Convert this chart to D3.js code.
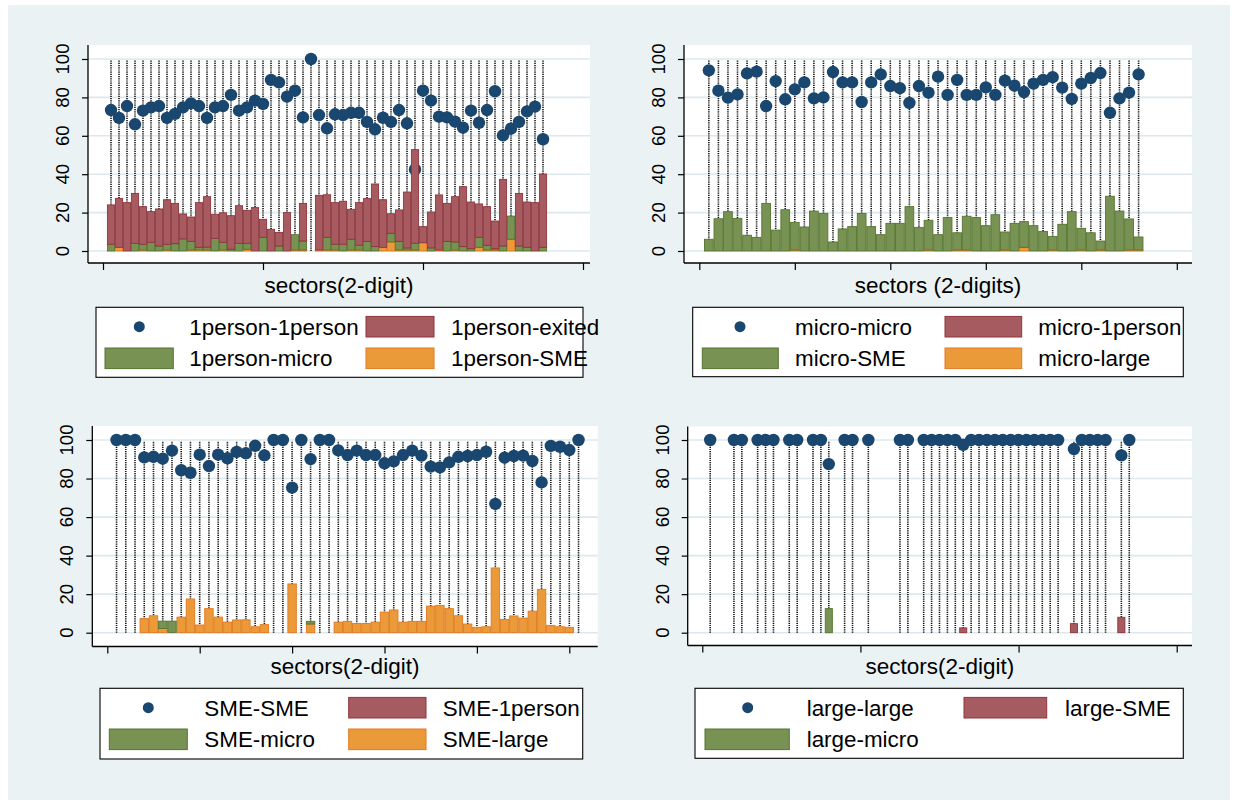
<!DOCTYPE html>
<html><head><meta charset="utf-8">
<script src="https://cdn.jsdelivr.net/npm/d3@7"></script>
<style>
body{margin:0;background:#ffffff}
svg{display:block}
text{font-family:"Liberation Sans",Arial,Helvetica,sans-serif;fill:#000}
</style>
</head><body>
<svg id="chart" width="1235" height="802"></svg>
<script>
// ---------------- DATA ----------------
const yTickValues = [0, 20, 40, 60, 80, 100];

// Panel 1: 1person firms
const p1Sectors = [1,2,3,4,5,6,7,8,9,10,11,12,13,14,15,16,17,18,19,20,21,22,23,24,25,26,27,28,29,30,31,32,33,34,35,36,37,38,39,40,41,42,43,44,45,46,47,48,49,50,51,52,53,54,55];
const p1Stay   = [73.4,69.3,75.5,66.0,73.1,74.8,75.5,69.3,71.4,74.8,76.9,75.5,69.3,74.8,75.5,81.3,73.1,74.8,78.3,76.6,89.1,87.8,80.4,83.5,69.6,100,70.8,63.9,71.2,70.8,72.0,72.0,67.2,63.4,69.4,67.2,73.4,66.5,42.5,83.5,78.3,70.0,69.6,67.4,64.2,73.1,66.8,73.4,83.2,60.2,63.7,67.2,72.7,75.2,58.2];
const p1SME    = [0,1.9,0,0,0.5,0,0,0.5,0,0,0.5,0.5,0.5,0,0.5,0,0,0.9,0,0,0,0,0,0.5,0.5,0,0.5,0.5,0.5,0,0.5,0.5,0,0,1.9,4.7,0.5,0.5,0.5,4.3,0,0.5,0,0.5,0,0,1.9,0.5,0.5,0,6.1,0,0,0,0];
const p1Micro  = [3.5,0,0,4.0,3.0,4.5,2.6,3.0,3.8,6.3,4.5,1.4,1.5,6.6,4.0,0.9,4.0,3.1,0,7.1,0,2.6,0,8.0,4.7,0,0,6.6,3.0,3.5,5.6,2.5,5.0,2.3,0,4.5,4.5,1.1,3.5,0,1.6,0,5.0,4.2,2.3,1.2,5.2,2.5,0.7,2.6,12.1,2.6,1.9,0,1.9];
const p1Exited = [20.5,25.5,25.2,26.0,19.6,16.0,19.3,23.2,21.0,13.0,12.7,23.3,26.3,12.5,15.4,17.5,19.6,17.2,22.6,9.4,11.3,7.1,20.0,0,19.6,0,28.5,22.2,21.7,22.4,15.6,22.2,22.3,32.6,24.8,10.2,16.4,29.1,48.8,8.4,18.7,28.7,19.8,23.6,31.2,24.3,17.4,20.1,14.4,34.7,0,27.4,23.6,25.2,38.2];

// Panel 2: micro firms
const p2Sectors = [1,2,3,4,5,6,7,8,9,10,11,12,13,14,15,16,17,18,19,20,21,22,23,24,25,26,27,28,29,30,31,32,33,34,35,36,37,38,39,40,41,42,43,44,45,46];
const p2Stay    = [94.1,83.5,79.9,81.6,92.5,93.4,75.5,88.5,79.0,84.2,87.8,79.5,80.0,93.2,87.8,87.8,77.6,87.8,92.0,85.9,84.8,77.1,85.9,82.5,90.8,81.3,89.1,81.3,81.3,85.2,81.3,88.7,86.1,82.8,87.2,89.1,90.5,85.1,79.2,87.2,90.1,92.7,72.0,79.5,82.5,92.0];
const p2Large   = [0,0,0,0,0,0,0,0,0,0.5,0,0,0,0,0,0,0,0,0,0,0,0,0,0.5,0,0,0.5,0.5,0,0,0,0.5,0,1.9,0,0,0.5,0,0,0.5,0,0.5,0,0,0.5,0.5];
const p2SME     = [6.1,16.8,20.5,17.0,8.2,7.1,24.8,10.9,21.5,14.4,12.5,20.8,19.6,4.7,11.5,12.7,19.6,12.7,8.5,14.4,14.4,23.1,12.3,15.5,8.5,17.4,9.0,17.6,17.4,13.2,18.9,9.4,14.4,13.4,13.2,10.2,7.1,13.9,20.5,11.3,9.5,4.7,28.5,20.8,16.2,6.8];
const p2OnePers = [0,0,0,0,0,0,0,0,0,0,0,0,0,0,0,0,0,0,0,0,0,0,0,0,0,0,0,0,0,0,0,0,0,0,0,0,0,0,0,0,0,0,0,0,0,0];

// Panel 3: SME firms
const p3Sectors = [1,2,3,4,5,6,7,8,9,10,11,12,13,14,15,16,17,18,19,20,21,22,23,24,25,26,27,28,29,30,31,32,33,34,35,36,37,38,39,40,41,42,43,44,45,46,47,48,49,50,51];
const p3Stay    = [100,100,100,91.0,91.3,90.3,94.5,84.3,83.0,92.4,86.5,92.4,90.5,93.8,93.1,97.0,92.0,100,100,75.3,100,90.1,100,100,94.6,92.2,94.5,92.2,92.2,87.9,88.9,92.2,94.5,91.9,86.2,85.8,88.4,91.3,91.7,92.2,93.9,66.8,90.8,91.7,91.9,89.1,78.0,96.9,96.5,94.8,100];
const p3Large   = [0,0,0,7.3,8.8,2.2,0,8.1,17.5,4.0,12.5,8.1,5.5,6.6,6.7,3.1,4.2,0,0,25.3,0,4.5,0,0,5.5,5.9,4.8,4.8,5.5,10.7,11.8,5.5,5.9,5.9,13.8,14.2,12.5,8.8,4.5,2.8,3.1,33.6,6.9,8.7,7.6,11.2,22.5,3.8,3.1,2.8,0];
const p3Micro   = [0,0,0,0,0,3.8,6.0,0,0,0,0,0,0,0,0,0,0,0,0,0,0,1.4,0,0,0,0,0,0,0,0,0,0,0,0,0,0,0,0,0,0,0,0,0,0,0,0,0,0,0,0,0];
const p3OnePers = [0,0,0,0,0,0,0,0,0,0,0,0,0,0,0,0,0,0,0,0,0,0,0,0,0,0,0,0,0,0,0,0,0,0,0,0,0,0,0,0,0,0,0,0,0,0,0,0,0,0,0];

// Panel 4: large firms
const p4Sectors = [1,4,5,7,8,9,11,12,14,15,16,18,19,21,25,26,28,29,30,31,32,33,34,35,36,37,38,39,40,41,42,43,44,45,47,48,49,50,51,53,54];
const p4Stay    = [100,100,100,100,100,100,100,100,100,100,87.5,100,100,100,100,100,100,100,100,100,100,97.5,100,100,100,100,100,100,100,100,100,100,100,100,95.3,100,100,100,100,92.0,100];
const p4Micro   = [0,0,0,0,0,0,0,0,0,0,12.5,0,0,0,0,0,0,0,0,0,0,0,0,0,0,0,0,0,0,0,0,0,0,0,0,0,0,0,0,0,0];
const p4SME     = [0,0,0,0,0,0,0,0,0,0,0,0,0,0,0,0,0,0,0,0,0,2.5,0,0,0,0,0,0,0,0,0,0,0,0,4.7,0,0,0,0,8.0,0];

// ---------------- STYLE ----------------
const BG = "#eaf2f3";
const DOT = "#1a476f";
const COLORS = {
  red:    {fill: "#a65b61", stroke: "#90353b"},
  green:  {fill: "#789254", stroke: "#55752f"},
  orange: {fill: "#ea9a38", stroke: "#e37821"}
};

const svg = d3.select("#chart");
svg.append("rect").attr("x", 0).attr("y", 0).attr("width", 1235).attr("height", 802).attr("fill", "#fff");
svg.append("rect").attr("x", 8).attr("y", 5).attr("width", 1222).attr("height", 795).attr("fill", BG);

function drawPanel(cfg) {
  const g = svg.append("g");
  const x = d3.scaleLinear().domain(cfg.xDomain).range(cfg.xRange);
  const y = d3.scaleLinear().domain([0, 100]).range(cfg.yRange);
  const unit = Math.abs(x(1) - x(0));

  // plot region
  g.append("rect").attr("x", cfg.L).attr("y", cfg.T)
    .attr("width", cfg.R - cfg.L).attr("height", cfg.B - cfg.T).attr("fill", "#fff");

  // gridlines
  g.selectAll("line.grid").data(yTickValues).join("line").attr("class", "grid")
    .attr("x1", cfg.L).attr("x2", cfg.R)
    .attr("y1", d => y(d)).attr("y2", d => y(d))
    .attr("stroke", "#dde8ed").attr("stroke-width", 1.6);

  // dotted droplines 0..100
  g.selectAll("line.drop").data(cfg.sectors).join("line").attr("class", "drop")
    .attr("x1", d => x(d)).attr("x2", d => x(d))
    .attr("y1", y(0)).attr("y2", y(99.5))
    .attr("stroke", "#111").attr("stroke-width", 1.6).attr("stroke-dasharray", "1.2,1");

  // dots
  g.selectAll("circle.stay").data(cfg.sectors.map((s, i) => ({s, v: cfg.stay[i]}))).join("circle")
    .attr("class", "stay")
    .attr("cx", d => x(d.s)).attr("cy", d => y(d.v)).attr("r", 6.2).attr("fill", DOT);

  // stacked bars
  const rows = cfg.sectors.map((s, i) => {
    const r = {sector: s};
    cfg.stackSeries.forEach(ser => { r[ser.key] = ser.values[i]; });
    return r;
  });
  const stacked = d3.stack().keys(cfg.stackSeries.map(s => s.key))(rows);
  stacked.forEach((layer, li) => {
    const col = COLORS[cfg.stackSeries[li].color];
    g.selectAll(null).data(layer.filter(d => d[1] - d[0] > 0)).join("rect")
      .attr("x", d => x(d.data.sector) - unit / 2 + 0.4)
      .attr("width", unit - 0.8)
      .attr("y", d => y(d[1]))
      .attr("height", d => y(d[0]) - y(d[1]))
      .attr("fill", col.fill).attr("stroke", col.stroke).attr("stroke-width", 0.9);
  });

  // axes lines
  g.append("line").attr("x1", cfg.L).attr("x2", cfg.L).attr("y1", cfg.T).attr("y2", cfg.B)
    .attr("stroke", "#000").attr("stroke-width", 1.3);
  g.append("line").attr("x1", cfg.L).attr("x2", cfg.R).attr("y1", cfg.B).attr("y2", cfg.B)
    .attr("stroke", "#000").attr("stroke-width", 1.3);

  // y axis ticks + labels
  const yAxis = d3.axisLeft(y).tickValues(yTickValues).tickSize(6).tickFormat("");
  const ya = g.append("g").attr("transform", `translate(${cfg.L},0)`).call(yAxis);
  ya.select(".domain").remove();
  ya.selectAll(".tick line").attr("stroke", "#000").attr("stroke-width", 1.2);
  g.selectAll("text.ylab").data(yTickValues).join("text").attr("class", "ylab")
    .attr("transform", d => `translate(${cfg.L - 19},${y(d)}) rotate(-90)`)
    .attr("text-anchor", "middle").attr("font-size", 18.5).text(d => d);

  // x axis ticks (no labels)
  const xAxis = d3.axisBottom(x).tickValues(cfg.xTicks).tickSize(7).tickFormat("");
  const xa = g.append("g").attr("transform", `translate(0,${cfg.B})`).call(xAxis);
  xa.select(".domain").remove();
  xa.selectAll(".tick line").attr("stroke", "#000").attr("stroke-width", 1.2);

  // axis title
  g.append("text").attr("x", (cfg.L + cfg.R) / 2).attr("y", cfg.titleY)
    .attr("text-anchor", "middle").attr("font-size", 22.5).text(cfg.title);

  // legend
  const lg = cfg.legend;
  g.append("rect").attr("x", lg.box[0]).attr("y", lg.box[1])
    .attr("width", lg.box[2] - lg.box[0]).attr("height", lg.box[3] - lg.box[1])
    .attr("fill", "#fff").attr("stroke", "#000").attr("stroke-width", 1.1);
  lg.items.forEach(it => {
    const ry = lg.rows[it.row];
    if (it.type === "dot") {
      g.append("circle").attr("cx", it.sx).attr("cy", ry).attr("r", 5.5).attr("fill", DOT);
    } else {
      const col = COLORS[it.color];
      g.append("rect").attr("x", it.sx[0]).attr("y", ry - 10.3)
        .attr("width", it.sx[1] - it.sx[0]).attr("height", 20.6)
        .attr("fill", col.fill).attr("stroke", col.stroke).attr("stroke-width", 1);
    }
    g.append("text").attr("x", it.tx).attr("y", ry + 7.8).attr("font-size", 22.4).text(it.label);
  });
}

drawPanel({
  L: 88, R: 590, T: 45, B: 263,
  xDomain: [0, 60], xRange: [103, 583], yRange: [251, 59], xTicks: [0, 20, 40, 60],
  sectors: p1Sectors, stay: p1Stay,
  stackSeries: [
    {key: "sme", values: p1SME, color: "orange"},
    {key: "micro", values: p1Micro, color: "green"},
    {key: "exited", values: p1Exited, color: "red"}
  ],
  title: "sectors(2-digit)", titleY: 293,
  legend: {box: [96, 307.3, 583, 377.3], rows: [326.7, 358.3], items: [
    {type: "dot", row: 0, sx: 139.3, tx: 189.3, label: "1person-1person"},
    {type: "bar", row: 0, color: "red", sx: [366, 434], tx: 451, label: "1person-exited"},
    {type: "bar", row: 1, color: "green", sx: [105, 173.3], tx: 189.3, label: "1person-micro"},
    {type: "bar", row: 1, color: "orange", sx: [366, 434], tx: 451, label: "1person-SME"}
  ]}
});

drawPanel({
  L: 684, R: 1192, T: 45, B: 263,
  xDomain: [0, 50], xRange: [699.3, 1176.8], yRange: [251, 59], xTicks: [0, 10, 20, 30, 40, 50],
  sectors: p2Sectors, stay: p2Stay,
  stackSeries: [
    {key: "large", values: p2Large, color: "orange"},
    {key: "sme", values: p2SME, color: "green"},
    {key: "onep", values: p2OnePers, color: "red"}
  ],
  title: "sectors (2-digits)", titleY: 293,
  legend: {box: [692.7, 307.3, 1183.3, 376.7], rows: [326.7, 358.3], items: [
    {type: "dot", row: 0, sx: 740, tx: 795, label: "micro-micro"},
    {type: "bar", row: 0, color: "red", sx: [945, 1021.7], tx: 1038.3, label: "micro-1person"},
    {type: "bar", row: 1, color: "green", sx: [702.3, 778.3], tx: 795, label: "micro-SME"},
    {type: "bar", row: 1, color: "orange", sx: [945, 1021.7], tx: 1038.3, label: "micro-large"}
  ]}
});

drawPanel({
  L: 92.3, R: 597.7, T: 426, B: 646.5,
  xDomain: [0, 50], xRange: [107.3, 569.3], yRange: [632.7, 440], xTicks: [0, 10, 20, 30, 40, 50],
  sectors: p3Sectors, stay: p3Stay,
  stackSeries: [
    {key: "large", values: p3Large, color: "orange"},
    {key: "micro", values: p3Micro, color: "green"},
    {key: "onep", values: p3OnePers, color: "red"}
  ],
  title: "sectors(2-digit)", titleY: 674,
  legend: {box: [100, 688.3, 582.7, 759], rows: [707.7, 739.3], items: [
    {type: "dot", row: 0, sx: 148.3, tx: 204.3, label: "SME-SME"},
    {type: "bar", row: 0, color: "red", sx: [348.7, 426], tx: 442.7, label: "SME-1person"},
    {type: "bar", row: 1, color: "green", sx: [109.3, 187.3], tx: 204.3, label: "SME-micro"},
    {type: "bar", row: 1, color: "orange", sx: [348.7, 426], tx: 442.7, label: "SME-large"}
  ]}
});

drawPanel({
  L: 687.7, R: 1192, T: 426.5, B: 645.5,
  xDomain: [0, 60], xRange: [702.3, 1176.7], yRange: [632.7, 440], xTicks: [0, 20, 40, 60],
  sectors: p4Sectors, stay: p4Stay,
  stackSeries: [
    {key: "micro", values: p4Micro, color: "green"},
    {key: "sme", values: p4SME, color: "red"}
  ],
  title: "sectors(2-digit)", titleY: 674,
  legend: {box: [695, 688.3, 1183.3, 758.3], rows: [707.7, 739.3], items: [
    {type: "dot", row: 0, sx: 747.7, tx: 806.7, label: "large-large"},
    {type: "bar", row: 0, color: "red", sx: [964, 1046.7], tx: 1065, label: "large-SME"},
    {type: "bar", row: 1, color: "green", sx: [705, 789.3], tx: 806.7, label: "large-micro"}
  ]}
});
</script>
</body></html>
